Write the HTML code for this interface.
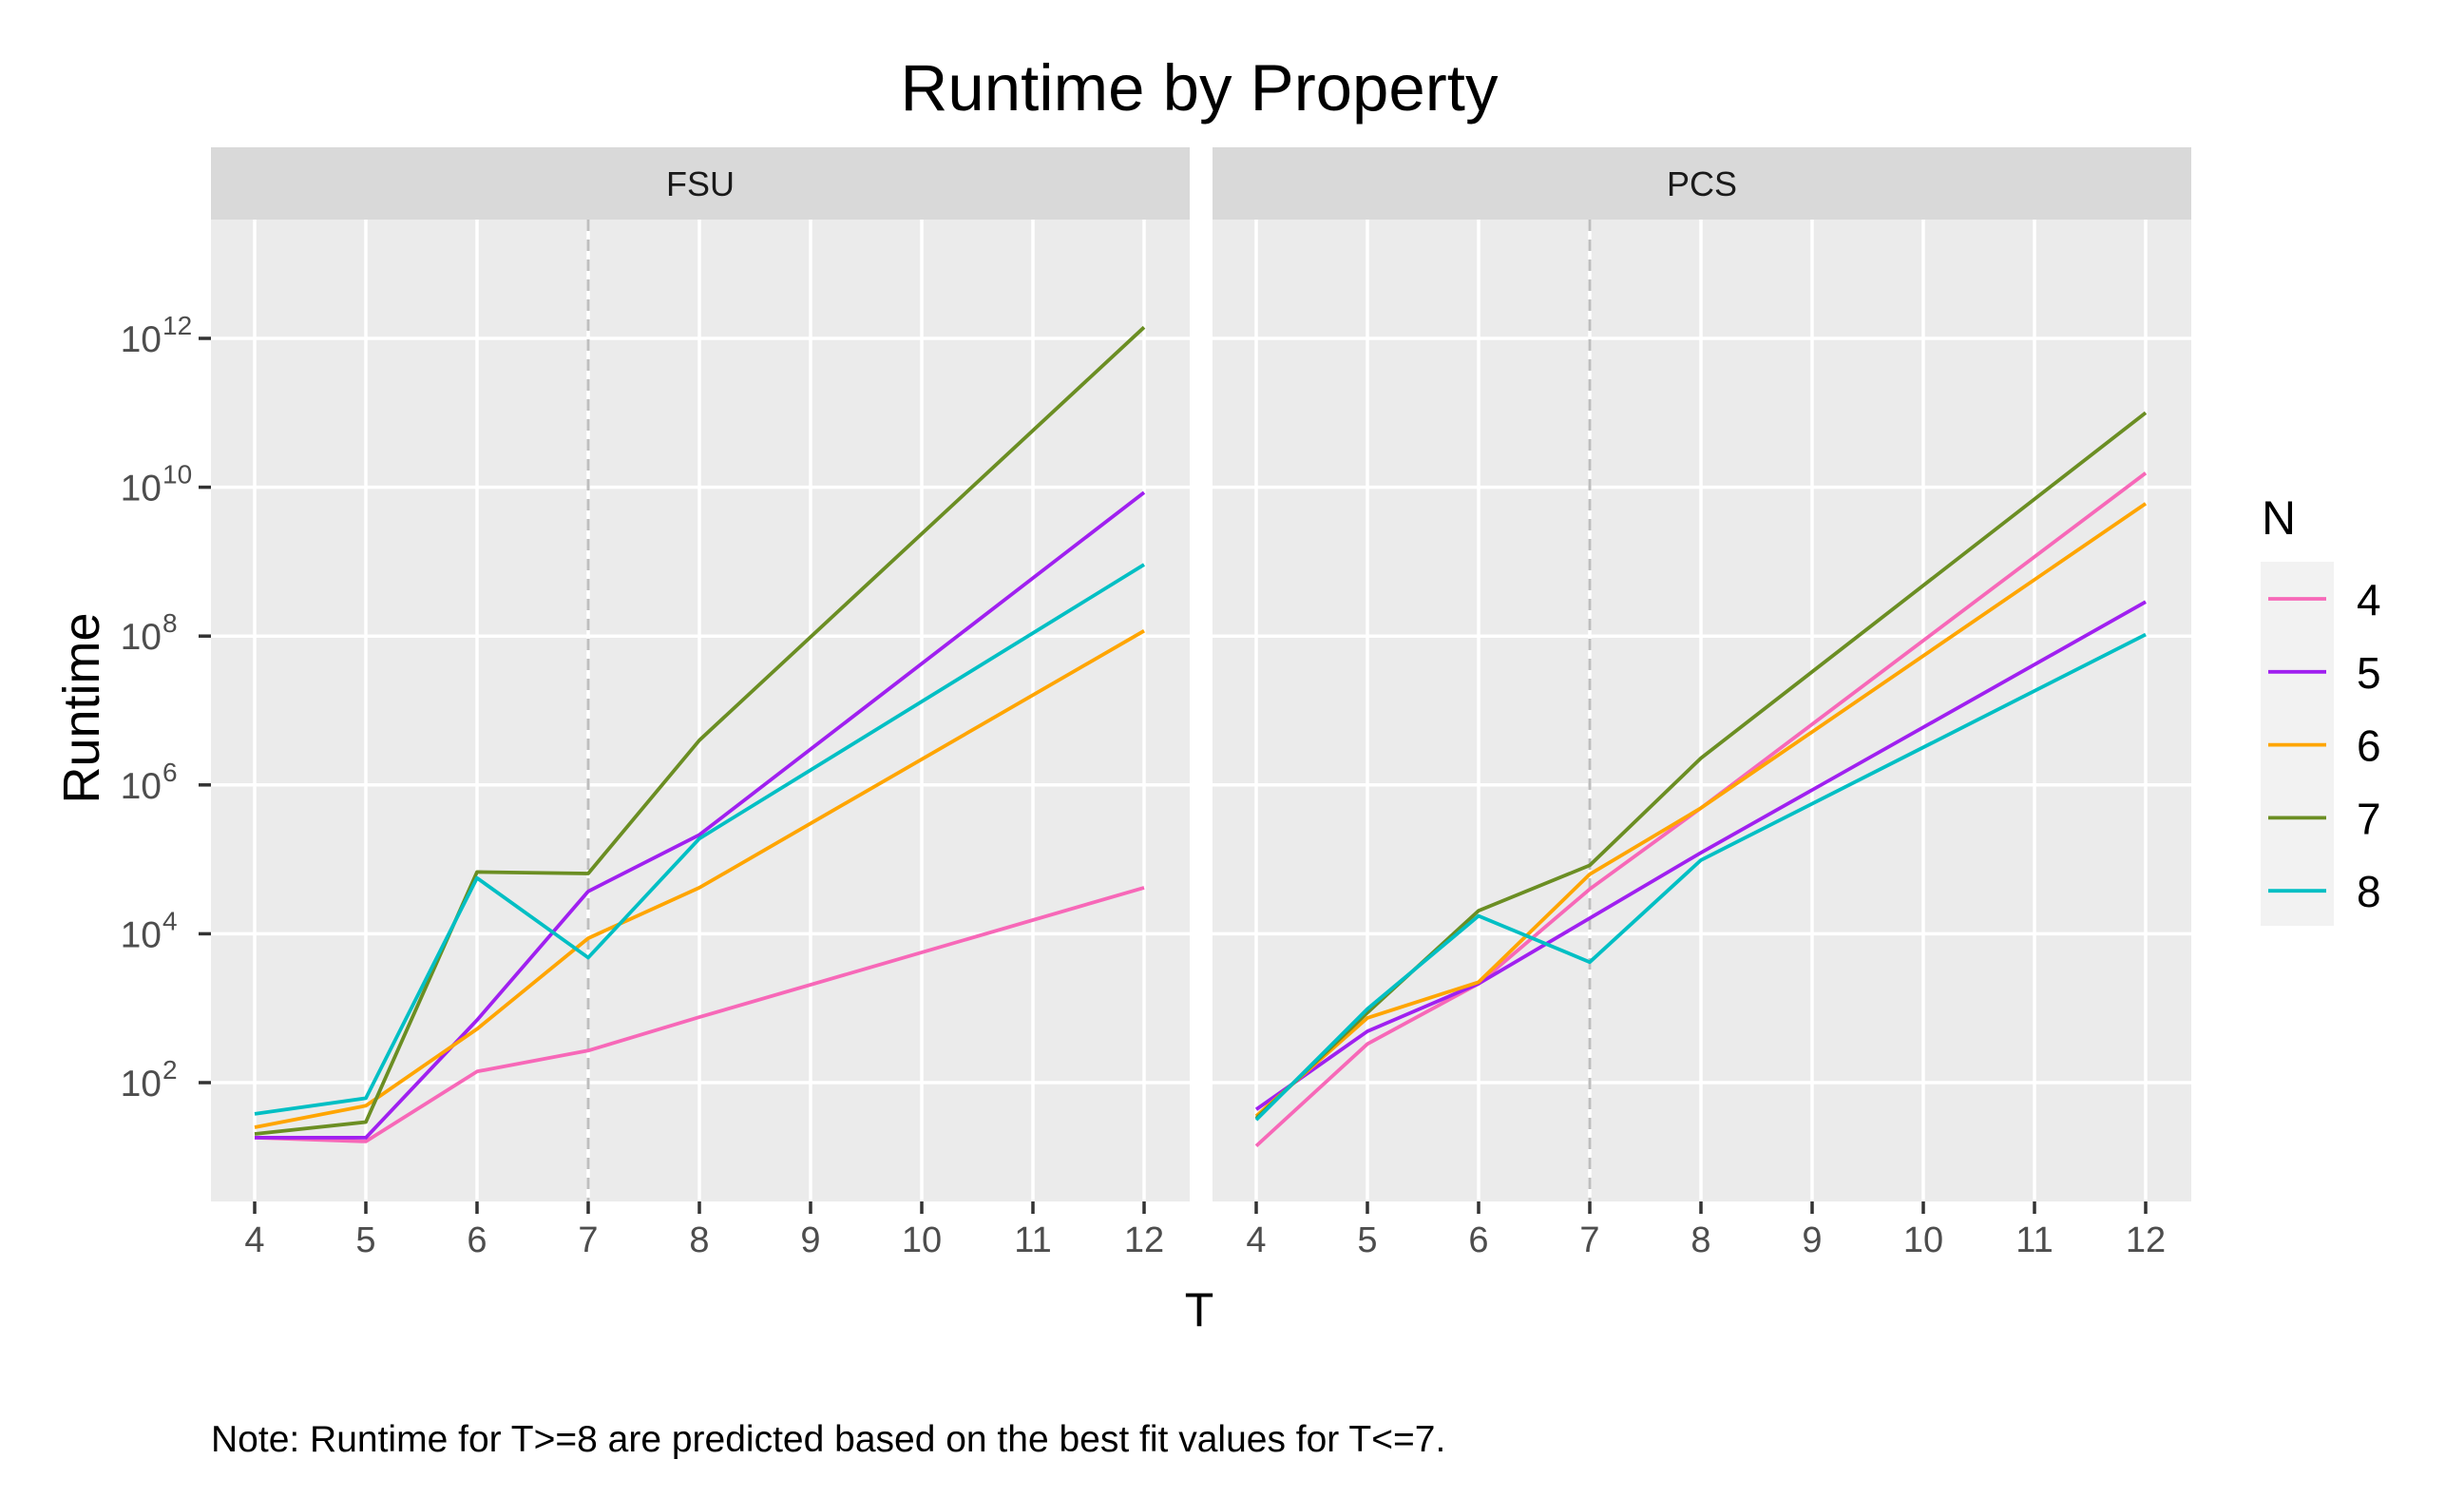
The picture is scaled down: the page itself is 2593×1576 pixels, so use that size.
<!DOCTYPE html>
<html><head><meta charset="utf-8"><style>
body{margin:0;background:#fff;}
svg{display:block;font-family:"Liberation Sans",Arial,sans-serif;}
</style></head><body>
<svg id="chart" width="2593" height="1576" viewBox="0 0 2593 1576" xmlns="http://www.w3.org/2000/svg">
<text x="1262" y="116" font-size="69" text-anchor="middle" fill="#000">Runtime by Property</text>
<text x="1262" y="1395" font-size="50" text-anchor="middle" fill="#000">T</text>
<text transform="translate(104,745) rotate(-90)" font-size="54" text-anchor="middle" fill="#000">Runtime</text>
<text x="222" y="1527" font-size="39" fill="#000">Note: Runtime for T&gt;=8 are predicted based on the best fit values for T&lt;=7.</text>
<g id="panels"></g>
<g id="legend"></g>
</svg>
<script>
const tValues = [4,5,6,7,8,12];
const seriesNames = ["4","5","6","7","8"];
const colors = ["#F768B8","#A020F0","#FFA500","#6B8E23","#00BFC4"];
const yTickExps = [2,4,6,8,10,12];
const xTickLabels = [4,5,6,7,8,9,10,11,12];
const panelNames = ["FSU","PCS"];
// log10 runtime values
const fsuN4 = [1.26,1.21,2.15,2.43,2.88,4.62];
const fsuN5 = [1.26,1.26,2.84,4.57,5.33,9.93];
const fsuN6 = [1.40,1.69,2.72,3.94,4.62,8.07];
const fsuN7 = [1.31,1.47,4.83,4.81,6.60,12.15];
const fsuN8 = [1.58,1.79,4.75,3.68,5.28,8.96];
const pcsN4 = [1.15,2.52,3.33,4.60,5.69,10.19];
const pcsN5 = [1.64,2.69,3.33,4.21,5.09,8.46];
const pcsN6 = [1.55,2.87,3.35,4.80,5.69,9.78];
const pcsN7 = [1.52,2.94,4.31,4.92,6.36,11.0];
const pcsN8 = [1.50,2.99,4.24,3.62,4.99,8.02];
const panelData = [[fsuN4,fsuN5,fsuN6,fsuN7,fsuN8],[pcsN4,pcsN5,pcsN6,pcsN7,pcsN8]];

const NS="http://www.w3.org/2000/svg";
function mk(tag,attrs,parent){const e=document.createElementNS(NS,tag);for(const k in attrs)e.setAttribute(k,attrs[k]);parent.appendChild(e);return e;}
const panelsG=document.getElementById('panels');
const PT=231,PB=1264,PW=1030;
const panelLeft=[222,1276];
function yScale(v){return 356+(12-v)*78.3;}
panelNames.forEach((name,p)=>{
  const L=panelLeft[p];
  function xScale(t){return L+46+(t-4)*117;}
  const g=mk('g',{},panelsG);
  
  
  const strip=mk('rect',{x:L,y:155,width:PW,height:76,fill:'#D9D9D9'},g);
  
  
  const st=mk('text',{x:L+PW/2,y:206,'font-size':36,'text-anchor':'middle',fill:'#1a1a1a'},g);
  st.textContent=name;
  
  
  const bg=mk('rect',{x:L,y:PT,width:PW,height:PB-PT,fill:'#EBEBEB'},g);
  
  
  yTickExps.forEach(e=>{
    const y=yScale(e);
    const gl=mk('line',{x1:L,x2:L+PW,y1:y,y2:y,stroke:'#fff','stroke-width':3.5},g);
    
    
    if(p===0){
      mk('line',{x1:209,x2:222,y1:y,y2:y,stroke:'#333','stroke-width':3.5},g);
      const tx=mk('text',{x:170,y:y+14,'font-size':39,'text-anchor':'end',fill:'#4D4D4D'},g);
      tx.textContent='10';
      
      
      const sp=mk('text',{x:171,y:y-4,'font-size':28,'text-anchor':'start',fill:'#4D4D4D'},g);
      sp.textContent=String(e);
    }
  });
  xTickLabels.forEach(t=>{
    const x=xScale(t);
    const gl=mk('line',{x1:x,x2:x,y1:PT,y2:PB,stroke:'#fff','stroke-width':3.5},g);
    
    
    mk('line',{x1:x,x2:x,y1:PB,y2:PB+13,stroke:'#333','stroke-width':3.5},g);
    const tx=mk('text',{x:x,y:1317,'font-size':38,'text-anchor':'middle',fill:'#4D4D4D'},g);
    tx.textContent=String(t);
    
    
  });
  const vl=mk('line',{x1:xScale(7),x2:xScale(7),y1:PT,y2:PB,stroke:'#BEBEBE','stroke-width':3,'stroke-dasharray':'12,9'},g);
  
  
  panelData[p].forEach((vals,i)=>{
    const pts=vals.map((v,j)=>xScale(tValues[j]).toFixed(1)+','+yScale(v).toFixed(1)).join(' ');
    const pl=mk('polyline',{points:pts,fill:'none',stroke:colors[i],'stroke-width':3.8,'stroke-linejoin':'round'},g);
    
    
  });
});
const lg=document.getElementById('legend');
const lt=mk('text',{x:2380,y:562,'font-size':50,fill:'#000'},lg);
lt.textContent='N';


mk('rect',{x:2379,y:591,width:77,height:383,fill:'#F2F2F2'},lg);
seriesNames.forEach((n,i)=>{
  const y=630+i*76.8;
  const eg=mk('g',{},lg);
  
  
  mk('line',{x1:2387,x2:2448,y1:y,y2:y,stroke:colors[i],'stroke-width':3.8},eg);
  const t=mk('text',{x:2480,y:y+17,'font-size':46,fill:'#000'},eg);
  t.textContent=n;
});
</script>
</body></html>
